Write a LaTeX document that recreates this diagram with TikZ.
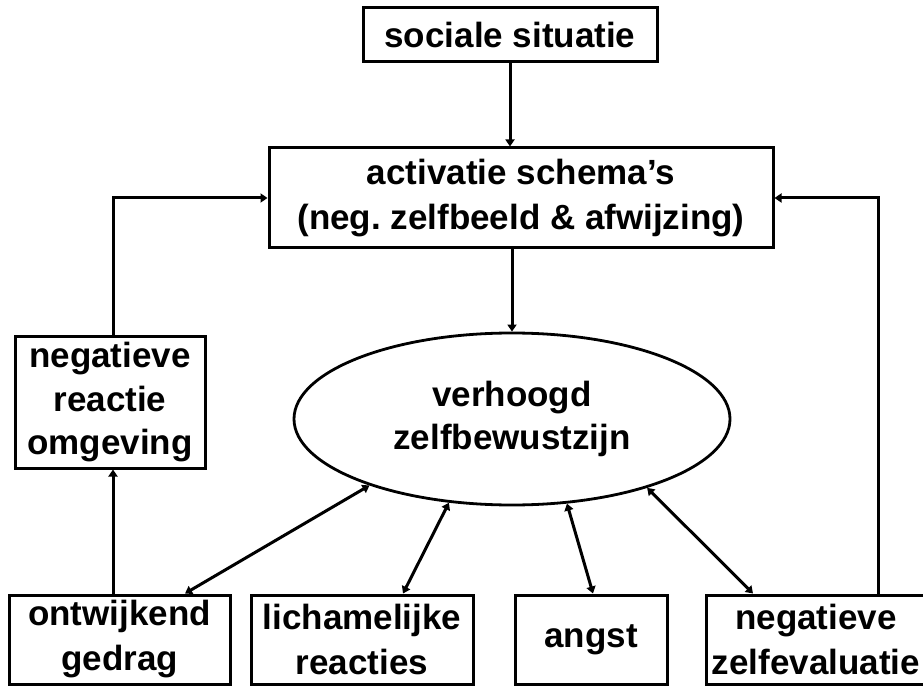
\documentclass[tikz,border=0pt]{standalone}
\usepackage{fontspec}
\setmainfont{Liberation Sans}
\usetikzlibrary{shapes.geometric,arrows.meta,calc}
\frenchspacing
\begin{document}
\begin{tikzpicture}[x=1pt,y=1pt,
  box/.style={draw,line width=3pt,rectangle,inner sep=0pt,align=center,
    font=\fontsize{35}{45}\selectfont\bfseries},
  ell/.style={draw,line width=2.8pt,ellipse,inner sep=0pt,align=center,
    font=\fontsize{35}{43}\selectfont\bfseries},
  arr/.style={line width=3pt,-{Triangle[length=7pt,width=9pt]}},
  darr/.style={line width=3pt,{Triangle[length=7pt,width=9pt]}-{Triangle[length=7pt,width=9pt]}}]
\useasboundingbox (0,0) rectangle (923,686);
\clip (0,0) rectangle (923,686);
\fill[white] (0,0) rectangle (923,686);
\node[box,minimum width=294pt,minimum height=54pt] (soc) at (510,651) {sociale situatie};
\node[box,minimum width=504pt,minimum height=100pt] (act) at (521,488) {activatie schema's\\(neg. zelfbeeld \& afwijzing)};
\node[ell,minimum width=436pt,minimum height=172pt] (ell) at (512,267) {verhoogd\\zelfbewustzijn};
\node[box,minimum width=190pt,minimum height=131pt,font=\fontsize{35}{43.5}\selectfont\bfseries] (neg) at (110,283.5) {negatieve\\reactie\\omgeving};
\node[box,minimum width=221pt,minimum height=89pt] (b1) at (119.5,46.5) {ontwijkend\\gedrag};
\node[box,minimum width=222pt,minimum height=89pt] (b2) at (362,46.5) {lichamelijke\\reacties};
\node[box,minimum width=152pt,minimum height=89pt] (b3) at (591,46.5) {angst};
\node[box,minimum width=220pt,minimum height=89pt] (b4) at (816,46.5) {negatieve\\zelfevaluatie};
\draw[arr] (soc.south) -- (soc.south |- act.north);
\draw[arr] (ell.north |- act.south) -- (ell.north);
\draw[arr] ([xshift=3pt]neg.north) |- (act.west);
\draw[arr] ([xshift=-6.5pt]b1.north) -- ([xshift=3pt]neg.south);
\draw[arr] ([xshift=62pt]b4.north) |- (act.east);
\draw[darr] (ell.205) -- ([xshift=65.5pt]b1.north);
\draw[darr] (ell.233) -- ([xshift=41pt]b2.north);
\draw[darr] (ell.303) -- ([xshift=2pt]b3.north);
\draw[darr] (ell.333) -- ([xshift=-63pt]b4.north);
\end{tikzpicture}
\end{document}
